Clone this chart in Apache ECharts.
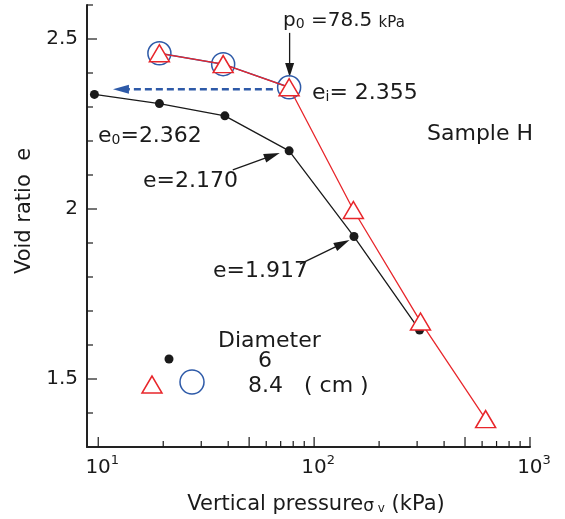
<!DOCTYPE html>
<html>
<head>
<meta charset="utf-8">
<script src="https://cdn.jsdelivr.net/npm/echarts@6/dist/echarts.min.js"></script>
<style>
html, body { margin: 0; padding: 0; background: #fff; }
#chartDom { width: 565px; height: 519px; }
</style>
</head>
<body>
<div id="chartDom"></div>
<script>
// diameter 6 cm (black dots)
var pressure6 = [9.6, 19.2, 38.6, 76.6, 153, 308];
var ratio6 = [2.337, 2.31, 2.274, 2.171, 1.919, 1.644];
// diameter 8.4 cm (red triangles), first three also circled in blue
var pressure84 = [19.2, 37.9, 76.6, 152, 311, 623];
var ratio84 = [2.458, 2.426, 2.358, 1.997, 1.669, 1.382];
var circledCount = 3;

var xMajorTicks = [10, 50, 100, 500, 1000];
var xMinorTicks = [20, 30, 40, 60, 70, 80, 90, 200, 300, 400, 600, 700, 800, 900];
var xTickLabels = [[10, '1'], [100, '2'], [1000, '3']];
var yMajorTicks = [1.5, 2, 2.5];
var yMinorTicks = [1.4, 1.6, 1.7, 1.8, 1.9, 2.1, 2.2, 2.3, 2.4, 2.6];
var yTickLabels = ['1.5', '2', '2.5'];

// arrows: [fromX, fromY, toX, toY]
var p0Arrow = [77, 2.518, 77, 2.388];
var e0Arrow = [64.4, 2.352, 11.7, 2.352];
var e2170Arrow = [42.0, 2.115, 69.3, 2.165];
var e1917Arrow = [85.9, 1.838, 146, 1.909];

var X_MIN = 8.87, X_MAX = 1000, Y_MIN = 1.3, Y_MAX = 2.6;
var FONT = 'DejaVu Sans';
var RED = '#e8262b', BLUE = '#2e5aa8', BLACK = '#1a1a1a';

chartL1();

function chartL1() {
	var dom = document.getElementById('chartDom');
	var myChart = echarts.init(dom);

	var black = pressure6.map(function(p, i) { return [p, ratio6[i]]; });
	var red = pressure84.map(function(p, i) { return [p, ratio84[i]]; });
	var blue = red.slice(0, circledCount);

	function arrow(api, a, color, width, dash, headLen, headW) {
		var p1 = api.coord([a[0], a[1]]);
		var p2 = api.coord([a[2], a[3]]);
		var dx = p2[0] - p1[0], dy = p2[1] - p1[1];
		var len = Math.sqrt(dx * dx + dy * dy);
		var ux = dx / len, uy = dy / len;
		var bx = p2[0] - ux * headLen, by = p2[1] - uy * headLen;
		return [{
			type: 'line',
			shape: { x1: p1[0], y1: p1[1], x2: bx + ux * 2, y2: by + uy * 2 },
			style: { stroke: color, lineWidth: width, lineDash: dash }
		}, {
			type: 'polygon',
			shape: { points: [p2, [bx - uy * headW / 2, by + ux * headW / 2], [bx + uy * headW / 2, by - ux * headW / 2]] },
			style: { fill: color }
		}];
	}

	function renderDecor(params, api) {
		var children = [];
		xMajorTicks.forEach(function(v) {
			var p = api.coord([v, Y_MIN]);
			children.push({ type: 'line', shape: { x1: p[0], y1: p[1], x2: p[0], y2: p[1] - 10 }, style: { stroke: BLACK, lineWidth: 1.2 } });
		});
		xMinorTicks.forEach(function(v) {
			var p = api.coord([v, Y_MIN]);
			children.push({ type: 'line', shape: { x1: p[0], y1: p[1], x2: p[0], y2: p[1] - 6 }, style: { stroke: BLACK, lineWidth: 1.2 } });
		});
		yMajorTicks.forEach(function(v) {
			var p = api.coord([X_MIN, v]);
			children.push({ type: 'line', shape: { x1: p[0], y1: p[1], x2: p[0] + 10, y2: p[1] }, style: { stroke: BLACK, lineWidth: 1.2 } });
		});
		yMinorTicks.forEach(function(v) {
			var p = api.coord([X_MIN, v]);
			children.push({ type: 'line', shape: { x1: p[0], y1: p[1], x2: p[0] + 6, y2: p[1] }, style: { stroke: BLACK, lineWidth: 1.2 } });
		});
		xTickLabels.forEach(function(t) {
			var p = api.coord([t[0], Y_MIN]);
			children.push({
				type: 'text', x: p[0] + 4, y: p[1] + 19,
				style: {
					text: '{b|10}{s|' + t[1] + '}', align: 'center', verticalAlign: 'middle',
					rich: {
						b: { fontFamily: FONT, fontSize: 20, fill: BLACK, lineHeight: 24, verticalAlign: 'bottom' },
						s: { fontFamily: FONT, fontSize: 13, fill: BLACK, lineHeight: 24, verticalAlign: 'top' }
					}
				}
			});
		});
		yMajorTicks.forEach(function(v, i) {
			var p = api.coord([X_MIN, v]);
			children.push({
				type: 'text', x: p[0] - 9, y: p[1],
				style: { text: yTickLabels[i], align: 'right', verticalAlign: 'middle', fontFamily: FONT, fontSize: 20, fill: BLACK }
			});
		});
		children = children.concat(arrow(api, p0Arrow, BLACK, 1.3, null, 14, 9));
		children = children.concat(arrow(api, e0Arrow, BLUE, 2.5, [7, 4], 16, 9));
		children = children.concat(arrow(api, e2170Arrow, BLACK, 1.3, null, 16, 9));
		children = children.concat(arrow(api, e1917Arrow, BLACK, 1.3, null, 16, 9));
		return { type: 'group', children: children };
	}

	var sub = { fontFamily: FONT, fontSize: 14, fill: BLACK, lineHeight: 28, verticalAlign: 'bottom' };
	function label(x, y, text, size) {
		return {
			type: 'text', x: x, y: y, z: 10,
			style: {
				text: text, verticalAlign: 'middle',
				rich: {
					t: { fontFamily: FONT, fontSize: size || 22, fill: BLACK, lineHeight: 28, verticalAlign: 'bottom' },
					sub: sub,
					k: { fontFamily: FONT, fontSize: 15, fill: BLACK, lineHeight: 28, verticalAlign: 'bottom' }
				}
			}
		};
	}

	option = {
		animation: false,
		grid: { left: 87, right: 35, top: 5, bottom: 72 },
		xAxis: {
			type: 'log',
			logBase: 10,
			min: X_MIN,
			max: X_MAX,
			axisLine: { onZero: false, lineStyle: { color: '#222', width: 2 } },
			axisTick: { show: false },
			axisLabel: { show: false },
			splitLine: { show: false }
		},
		yAxis: {
			type: 'value',
			min: Y_MIN,
			max: Y_MAX,
			axisLine: { show: true, lineStyle: { color: '#222', width: 2 } },
			axisTick: { show: false },
			axisLabel: { show: false },
			splitLine: { show: false }
		},
		graphic: [
			label(283, 17, '{t|p}{sub|0}{t| =78.5 }{k|kPa}', 20),
			label(312, 90, '{t|e}{sub|i}{t|= 2.355}'),
			label(427, 131, '{t|Sample H}'),
			label(98, 133, '{t|e}{sub|0}{t|=2.362}'),
			label(143, 178, '{t|e=2.170}'),
			label(213, 268, '{t|e=1.917}'),
			label(218, 338, '{t|Diameter}'),
			label(258, 358, '{t|6}'),
			label(248, 383, '{t|8.4   ( cm )}'),
			{
				type: 'text', x: 316, y: 502, z: 10,
				style: {
					text: '{t|Vertical pressure}{g|σ}{sub| v}{t| (kPa)}', align: 'center', verticalAlign: 'middle',
					rich: {
						t: { fontFamily: FONT, fontSize: 21, fill: BLACK, lineHeight: 26, verticalAlign: 'bottom' },
						g: { fontFamily: FONT, fontSize: 17, fill: BLACK, lineHeight: 26, verticalAlign: 'bottom' },
						sub: { fontFamily: FONT, fontSize: 12, fill: BLACK, lineHeight: 26, verticalAlign: 'bottom' }
					}
				}
			},
			{
				type: 'text', x: 25, y: 211, rotation: Math.PI / 2, z: 10,
				style: { text: 'Void ratio  e', align: 'center', verticalAlign: 'middle', fontFamily: FONT, fontSize: 21, fill: BLACK }
			},
			{ type: 'circle', shape: { cx: 169, cy: 359, r: 4.5 }, style: { fill: BLACK } },
			{ type: 'polygon', shape: { points: [[152, 376], [142, 393], [162, 393]] }, style: { fill: '#fff', stroke: RED, lineWidth: 1.5 } },
			{ type: 'circle', shape: { cx: 192, cy: 382, r: 12 }, style: { fill: 'none', stroke: BLUE, lineWidth: 1.5 } }
		],
		series: [{
				type: 'custom',
				renderItem: renderDecor,
				data: [[X_MIN, Y_MIN]],
				clip: false,
				silent: true,
				z: 1
			},
			{
				name: '6',
				type: 'line',
				data: black,
				symbol: 'circle',
				symbolSize: 9,
				itemStyle: { color: BLACK },
				lineStyle: { color: BLACK, width: 1.3 },
				z: 2
			},
			{
				name: '8.4 circled',
				type: 'line',
				data: blue,
				symbol: 'circle',
				symbolSize: 23,
				itemStyle: { color: 'rgba(0,0,0,0)', borderColor: BLUE, borderWidth: 1.5 },
				lineStyle: { color: BLUE, width: 1.5 },
				z: 3
			},
			{
				name: '8.4',
				type: 'line',
				data: red,
				symbol: 'triangle',
				symbolSize: [20, 17],
				itemStyle: { color: '#fff', borderColor: RED, borderWidth: 1.5 },
				lineStyle: { color: RED, width: 1.3 },
				z: 4
			}
		]
	};
	myChart.setOption(option, true);
};
</script>
</body>
</html>
